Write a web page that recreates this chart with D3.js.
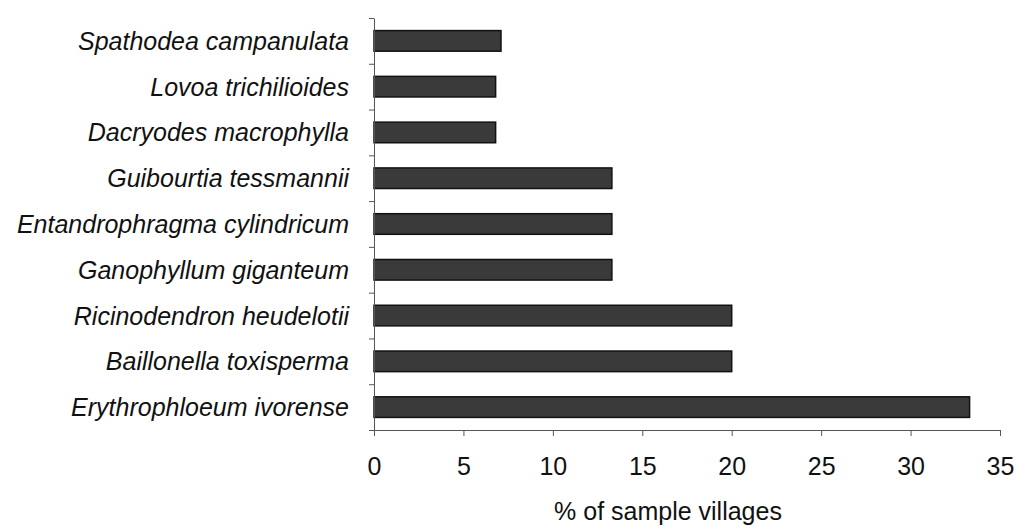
<!DOCTYPE html>
<html><head><meta charset="utf-8">
<script src="https://cdn.jsdelivr.net/npm/d3@7"></script>
<style>
body{margin:0;background:#fff;}
text{font-family:"Liberation Sans",Arial,sans-serif;fill:#111;}
</style></head>
<body><svg id="c" width="1018" height="527"></svg>
<script>
const categories = ["Spathodea campanulata","Lovoa trichilioides","Dacryodes macrophylla","Guibourtia tessmannii","Entandrophragma cylindricum","Ganophyllum giganteum","Ricinodendron heudelotii","Baillonella toxisperma","Erythrophloeum ivorense"];
const values = [7.1, 6.8, 6.8, 13.3, 13.3, 13.3, 20.0, 20.0, 33.3];
const xTicks = [0,5,10,15,20,25,30,35];
const xTitle = "% of sample villages";

const svg = d3.select("#c");
const x = d3.scaleLinear().domain([0,35]).range([374,1000]);
const y = d3.scaleBand().domain(categories).range([18,430]);
const yb = d3.scaleLinear().domain([0,categories.length]).range([18,430]);
const barH = y.bandwidth()*0.45;

svg.selectAll("rect.bar").data(values).enter().append("rect")
  .attr("x", x(0))
  .attr("y", (d,i)=>y(categories[i]) + (y.bandwidth()-barH)/2)
  .attr("width", d=>x(d)-x(0))
  .attr("height", barH)
  .attr("fill","#3a3a3a").attr("stroke","#111").attr("stroke-width",1.5);

const xa = svg.append("g").attr("transform","translate(0,430)")
  .call(d3.axisBottom(x).tickValues(xTicks).tickSize(6).tickPadding(21).tickSizeOuter(0));
xa.selectAll("text").style("font-size","25px");
xa.selectAll("line,path").attr("stroke","#555");

const ya = svg.append("g").attr("transform","translate(374,0)")
  .call(d3.axisLeft(yb).ticks(categories.length).tickSize(5).tickFormat("").tickSizeOuter(0));
ya.selectAll("line,path").attr("stroke","#555");

svg.selectAll("text.cat").data(categories).enter().append("text")
  .attr("class","cat")
  .attr("x",349).attr("y",d=>y(d)+y.bandwidth()/2)
  .attr("dy","0.36em").attr("text-anchor","end")
  .style("font-style","italic").style("font-size","25px")
  .text(d=>d);

svg.append("text").attr("x",668).attr("y",520).attr("text-anchor","middle")
  .style("font-size","25px").text(xTitle);
</script></body></html>
